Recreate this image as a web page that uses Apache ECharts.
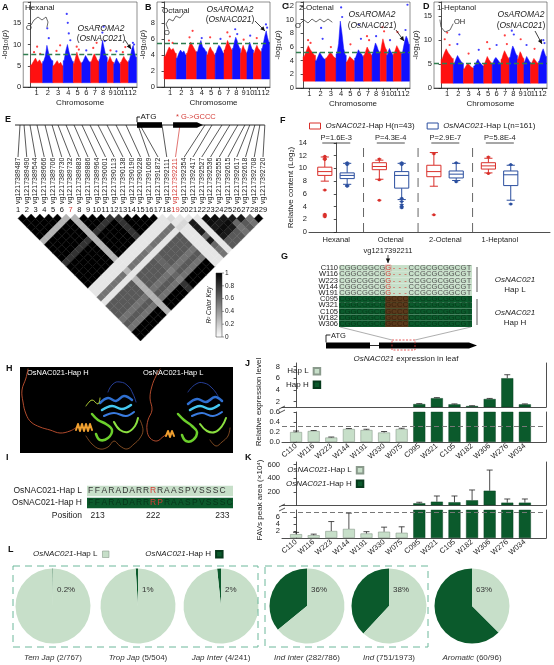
<!DOCTYPE html>
<html><head><meta charset="utf-8"><title>OsNAC021 figure</title>
<script src="https://cdn.jsdelivr.net/npm/echarts@6.0.0/dist/echarts.min.js"></script>
<style>html,body{margin:0;padding:0;background:#fff;}#chart{width:554px;height:665px;}</style>
</head><body><div id="chart"></div>
<script>
// ================= DATA =================
const chrLengths = [43.3,35.9,36.4,35.5,29.9,31.2,29.7,28.4,23.0,23.2,29.0,27.5];
const chrNames = ['1','2','3','4','5','6','7','8','9','10','11','12'];
const manhattanBase = 1;

const hexanalEnvelope = [[5.2,6.0,6.8,5.8,6.4,5.5],[6.0,7.2,9.8,8.0,6.8,6.2],[5.0,5.6,6.2,5.4,5.8,5.0],[6.2,8.5,10.0,8.2,7.0,6.0],[5.5,6.8,8.2,7.0,6.2,5.6],[5.8,6.6,7.4,6.8,6.2,5.8],[6.0,7.0,7.8,7.2,6.4,6.0],[6.5,8.8,11.0,9.5,8.0,7.0],[5.8,6.5,7.2,6.6,6.0,5.8],[5.5,6.2,6.8,6.2,5.8,5.4],[5.8,6.6,7.2,6.6,6.2,5.8],[6.2,7.5,9.0,9.8,8.2,7.0]];
const hexanalPeaks = [[1,.3,8.2],[1,.55,9.5],[1,.8,7.8],[2,.45,13.8],[2,.6,11.5],[3,.35,8.5],[3,.7,9.8],[4,.35,17.2],[4,.45,15.1],[4,.55,12.6],[4,.7,11],[5,.4,9.5],[5,.65,8.8],[6,.5,8.6],[7,.3,9.2],[7,.7,10.4],[8,.4,12.8],[8,.55,14.2],[8,.7,10.8],[9,.5,8.6],[10,.4,8.4],[11,.3,8.2],[11,.6,9.4],[12,.55,10.4],[12,.7,10.0]];
const hexanalThreshold = 7.6;

const octanalEnvelope = [[3.8,4.4,5.0,4.6,4.8,4.2],[3.6,4.2,4.6,4.3,4.5,4.0],[4.2,5.0,5.6,5.2,4.8,4.4],[4.4,5.2,5.8,5.0,4.8,4.4],[4.0,4.6,5.0,4.6,4.4,4.0],[4.2,4.8,5.2,5.0,4.6,4.2],[4.6,5.2,5.8,5.4,5.0,4.6],[4.8,5.6,6.2,5.8,5.2,4.8],[4.2,4.8,5.2,4.8,4.6,4.2],[4.4,5.0,5.6,5.2,4.8,4.6],[4.2,4.8,5.2,4.8,4.6,4.4],[4.8,5.6,6.4,7.0,6.2,5.6]];
const octanalPeaks = [[1,.4,5.8],[1,.7,5.5],[3,.3,6.2],[3,.6,7.0],[4,.5,6.1],[5,.4,6.2],[6,.6,6.0],[7,.4,6.8],[7,.7,6.3],[8,.35,7.2],[8,.6,6.6],[9,.5,5.9],[10,.5,6.4],[11,.4,6.1],[12,.55,7.8],[12,.7,7.4]];
const octanalThreshold = 5.4;

const octenalEnvelope = [[4.6,5.4,6.2,5.6,5.2,4.8],[4.0,4.6,5.2,4.8,4.4,4.2],[4.4,4.8,5.2,5.0,4.6,4.4],[5.0,6.5,9.8,8.0,5.8,4.8],[3.8,4.2,4.6,4.4,4.2,4.0],[4.4,5.0,5.6,5.2,5.0,4.6],[4.8,5.4,6.0,5.6,5.2,4.8],[5.0,5.8,6.6,6.2,5.6,5.2],[5.4,6.4,7.2,6.6,6.0,5.6],[4.8,5.4,5.8,5.4,5.2,4.8],[5.0,5.6,6.2,5.8,5.4,5.2],[5.0,6.0,7.0,7.6,7.2,6.4]];
const octenalPeaks = [[1,.4,7.0],[1,.6,6.6],[2,.55,8.8],[2,.7,7.2],[3,.5,6.0],[4,.5,11.8],[4,.6,10.4],[5,.5,6.4],[6,.45,9.3],[6,.7,7.2],[7,.4,7.6],[7,.65,7.0],[8,.5,7.6],[9,.35,8.9],[9,.6,8.3],[10,.5,7.0],[11,.5,8.2],[12,.5,8.5],[12,.75,12.2]];
const octenalThreshold = 5.2;

const heptanolEnvelope = [[6.0,7.2,8.2,7.4,6.8,6.2],[5.0,6.0,6.8,6.2,5.6,5.2],[4.0,4.6,5.2,4.8,4.4,4.2],[4.6,5.4,6.0,5.4,5.0,4.6],[5.0,5.8,6.6,6.0,5.6,5.2],[5.2,6.0,6.4,6.0,5.6,5.2],[6.0,7.0,7.8,7.2,6.6,6.2],[6.4,7.8,8.8,8.2,7.4,6.8],[6.0,6.8,7.6,7.2,6.6,6.2],[5.4,6.0,6.6,6.2,5.8,5.4],[5.0,5.6,6.2,5.8,5.4,5.2],[5.6,6.6,7.6,8.2,7.4,6.6]];
const heptanolPeaks = [[1,.3,10.2],[1,.5,11.6],[1,.7,9.0],[2,.4,9.2],[2,.6,11.2],[3,.5,7.2],[4,.5,8.0],[5,.4,9.6],[5,.7,8.2],[6,.5,9.0],[7,.45,11.0],[7,.7,9.2],[8,.3,12.0],[8,.55,11.2],[9,.5,10.2],[10,.4,9.0],[11,.5,8.2],[12,.6,10.0],[12,.75,9.4]];
const heptanolThreshold = 5.2;

// E: SNPs and LD (r2)
const snpIds = ['vg1217389487','vg1217389490','vg1217389544','vg1217389666','vg1217389706','vg1217389730','vg1217389732','vg1217389883','vg1217389886','vg1217389964','vg1217390001','vg1217390113','vg1217390138','vg1217390190','vg1217390228','vg1217391069','vg1217391872','vg1217392111','vg1217392211','vg1217392354','vg1217392417','vg1217392527','vg1217392536','vg1217392555','vg1217392615','vg1217392617','vg1217392618','vg1217392708','vg1217392720'];
const snpTrackPos = [1.23,1.69,2.37,3.17,4.09,4.89,5.57,6.49,7.40,8.31,9.23,10.14,11.17,12.20,13.34,14.71,14.94,17.46,19.51,22.37,23.17,24.31,25.21,26.13,26.93,27.49,28.07,28.64,29.21];
const highlightSnps = [7,19];
const causalSnp = 19;
const geneModel = {lineStart:0.66, lineEnd:29.2, exon1:[14.6,17.46], exon2:[18.72,21.46], tip:22.14, mutation:19.51, mutationText:'* G->GCCC'};
const ldRows = [
 [1,1,1,1,1,.3,1,1,1,1,.8,1,1,1,1,1,.1,.1,.55,.1,.65,.65,.65,.55,.65,.55,1,1],
 [1,1,1,1,.3,1,1,1,1,.8,1,1,1,1,1,.1,.1,.55,.1,.65,.65,.65,.55,.65,.55,1,1],
 [1,1,1,.3,1,1,1,1,.8,1,1,1,1,1,.1,.1,.55,.1,.65,.65,.65,.55,.65,.55,1,1],
 [1,1,.3,1,1,1,1,.8,1,1,1,1,1,.1,.1,.55,.1,.65,.65,.65,.55,.65,.55,1,1],
 [1,.3,1,1,1,1,.8,1,1,1,1,1,.1,.1,.55,.1,.65,.65,.65,.55,.65,.55,1,1],
 [.3,1,1,1,1,.8,1,1,1,1,1,.1,.1,.55,.1,.65,.65,.65,.55,.65,.55,1,1],
 [.3,.3,.3,.3,.3,.3,.3,.3,.3,.3,.1,.1,.3,.1,.3,.3,.3,.3,.3,.3,.3,.3],
 [1,1,1,.8,1,1,1,1,1,.1,.1,.55,.1,.65,.65,.65,.55,.65,.55,1,1],
 [1,1,.8,1,1,1,1,1,.1,.1,.55,.1,.65,.65,.65,.55,.65,.55,1,1],
 [1,.8,1,1,1,1,1,.1,.1,.55,.1,.65,.65,.65,.55,.65,.55,1,1],
 [.8,1,1,1,1,1,.1,.1,.55,.1,.65,.65,.65,.55,.65,.55,1,1],
 [.8,.8,.8,.8,.8,.1,.1,.5,.1,.6,.6,.6,.5,.6,.5,.8,.8],
 [1,1,1,1,.1,.1,.55,.1,.65,.65,.65,.55,.65,.55,1,1],
 [1,1,1,.1,.1,.55,.1,.65,.65,.65,.55,.65,.55,1,1],
 [1,1,.1,.1,.55,.1,.65,.65,.65,.55,.65,.55,1,1],
 [1,.1,.1,.55,.1,.65,.65,.65,.55,.65,.55,1,1],
 [.1,.1,.55,.1,.65,.65,.65,.55,.65,.55,1,1],
 [.15,.1,.15,.1,.1,.1,.1,.1,.1,.1,.1],
 [.1,.15,.1,.1,.1,.1,.1,.1,.1,.1],
 [.1,.9,.9,.9,.6,.9,.6,.55,.55],
 [.1,.1,.1,.1,.1,.1,.1,.1],
 [.95,.95,.9,.95,.9,.65,.65],
 [.95,.9,.95,.9,.65,.65],
 [.9,.95,.9,.65,.65],
 [.9,.6,.55,.55],
 [.9,.65,.65],
 [.55,.55],
 [1]
];
const ldKeyTicks = [1,0.8,0.6,0.4,0.2,0];

// F: volatile content boxplots [min, Q1, median, Q3, max]
const volatiles = ['Hexanal','Octenal','2-Octenal','1-Heptanol'];
const boxHapH = [[8.0,8.9,9.5,10.2,11.8],[8.3,9.8,10.3,10.9,11.3],[7.2,8.7,9.5,10.5,12.5],[9.3,9.9,10.4,10.9,11.6]];
const boxHapL = [[7.5,8.4,8.9,9.3,10.8],[5.1,6.9,8.9,9.5,10.8],[8.1,8.5,9.1,9.6,10.8],[5.0,7.3,9.0,9.6,10.5]];
const outliersHapH = [[0,6.6],[0,2.6],[0,2.4],[0,2.8],[0,11.9],[0,11.6],[0,11.4],[1,5.0],[1,11.5],[1,8.2],[2,2.7],[2,12.3],[3,11.8],[3,9.2]];
const outliersHapL = [[0,10.9],[0,7.3],[0,7.2],[0,10.6],[1,4.0],[1,3.8],[1,4.3],[1,4.8],[1,5.3],[1,10.9],[1,10.6],[2,7.9],[2,10.9],[3,4.4],[3,10.6]];
const pValues = ['P=1.6E-3','P=4.3E-4','P=2.9E-7','P=5.8E-4'];
const volatileSeparators = [0.5,1.5,2.5];

// G: DNA alignment
const alignSamples = ['C110','W116','W223','W144','W191','C095','W321','C105','W182','W306'];
const alignHap = ['L','L','L','L','L','H','H','H','H','H'];
const seqHapL = 'CGGCGGCGG---CCGCGCGGCGT';
const seqHapH = 'CGGCGGCGGCCCCCGCGCGGCGT';
const variantCols = [8,9,10,11];

// I: protein alignment
const proteinRows = ['OsNAC021-Hap L','OsNAC021-Hap H'];
const proteinSeqs = ['FFARADARRRRAASPVSSSC','FFARADARRRPRAASPVSSSC'];
const proteinVariantCols = [[9],[9,10]];
const proteinPositions = [213,222,233];
const proteinPositionCols = [0,9,20];

// J & K
const sampleNames = ['C110','W116','W223','W144','W191','W330','W075','C095','W321','C105','W182','W306','W276','W034'];
const sampleHap = ['L','L','L','L','L','L','L','H','H','H','H','H','H','H'];
const leafExpr = [0.20,0.22,0.09,0.26,0.24,0.19,0.26,1.6,2.6,1.55,1.26,2.46,6.0,1.55];
const leafExprErr = [0.02,0.01,0.01,0.01,0.015,0.02,0.015,0.08,0.1,0.08,0.06,0.1,0.6,0.08];
const leafExprCutoff = 0.31;
const favArea = [1.1,0.8,2.0,2.6,1.3,1.8,1.5,35,58,50,79,219,44,44];
const favAreaErr = [0.5,0.3,2.7,4.5,0.5,1.3,1.7,15,84,92,151,303,54,54];
const favCutoff = 7.5;

// L: haplotype frequency
const popNames = ['Tem Jap','Trop Jap','Jap Inter','Ind Inter','Ind','Aromatic'];
const popHapH = [2,5,4,282,751,60];
const popTotal = [767,504,241,786,1973,96];
const popPctLabels = ['0.2%','1%','2%','36%','38%','63%'];

// ================= STYLE / LAYOUT =================
const FONT = '"Liberation Sans", Arial, Helvetica, sans-serif';
const RED_M = '#ff1010', BLUE_M = '#1010ff';
const DARK = '#0b5a2c', LIGHT = '#c7dfc9', LIGHT_BORDER = '#8a9a8c';
const BOX_RED = '#d9302b', BOX_BLUE = '#2b4f9f';
const MUT_RED = '#d43a35';
const AX = '#222';
function fnt(size, o){ o=o||{}; return (o.italic?'italic ':'')+(o.bold?'bold ':'')+size+'px '+FONT; }
function merge(a,b){ const o=Object.assign({},a); for(const k in b){ const v=b[k]; if(v&&typeof v==='object'&&!Array.isArray(v)&&o[k]&&typeof o[k]==='object'&&!Array.isArray(o[k])) o[k]=merge(o[k],v); else o[k]=v; } return o; }
const baseAxis = {type:'value', axisLine:{show:true,lineStyle:{color:AX,width:0.8}}, axisTick:{show:true,length:2.5,lineStyle:{color:AX,width:0.8}}, axisLabel:{color:'#222',fontSize:7.5,margin:2,fontFamily:FONT}, splitLine:{show:false}, nameTextStyle:{color:'#222',fontSize:8,fontFamily:FONT}};
const hiddenAxis = (g,min,max,inv)=>({type:'value', gridIndex:g, min, max, show:false, inverse:!!inv});

const starts=[]; {let acc=0; chrLengths.forEach(l=>{starts.push(acc); acc+=l;});}
const mids = starts.map((s,i)=>s+chrLengths[i]/2);

const manhattanPanels = [
 {trait:'Hexanal', env:hexanalEnvelope, peaks:hexanalPeaks, thr:hexanalThreshold, yMax:20, yInt:5, showMax:15, grid:{left:20,top:2,width:117,height:85}},
 {trait:'Octanal', env:octanalEnvelope, peaks:octanalPeaks, thr:octanalThreshold, yMax:10.6, yInt:2, showMax:8, grid:{left:157,top:2,width:113,height:85}},
 {trait:'2-Octenal', env:octenalEnvelope, peaks:octenalPeaks, thr:octenalThreshold, yMax:12.6, yInt:2, showMax:12, grid:{left:296,top:2,width:114,height:86}},
 {trait:'1-Heptanol', env:heptanolEnvelope, peaks:heptanolPeaks, thr:heptanolThreshold, yMax:18, yInt:5, showMax:15, grid:{left:434,top:2,width:113,height:86}}
];

const grids=[], xAxes=[], yAxes=[], series=[];
// ---- A-D ----
manhattanPanels.forEach((p,pi)=>{
  grids.push(Object.assign({show:true,borderColor:'#444',borderWidth:0.6}, p.grid));
  xAxes.push(merge(baseAxis,{gridIndex:pi,min:-25,max:375,name:'Chromosome',nameLocation:'middle',nameGap:12,
    axisLabel:{customValues:mids, formatter:v=>chrNames[mids.findIndex(m=>Math.abs(m-v)<1e-6)]||''},
    axisTick:{customValues:mids}}));
  yAxes.push(merge(baseAxis,{gridIndex:pi,min:0,max:p.yMax,interval:p.yInt,
    name:'-log\u2081\u2080({i|p})',nameLocation:'middle',nameGap:(p.showMax>=10?10:7),
    nameTextStyle:{rich:{i:{fontStyle:'italic',fontSize:8,fontFamily:FONT,color:'#222'}}},
    axisLabel:{formatter:v=>v>p.showMax?'':String(v)}}));
  const env=p.env;
  series.push({type:'custom', xAxisIndex:pi, yAxisIndex:pi, silent:true, data:env.map((e,i)=>[i]),
    renderItem:(params,api)=>{
      const c=api.value(0), s=starts[c], L=chrLengths[c], e=env[c];
      const pts=[api.coord([s,manhattanBase]), api.coord([s,e[0]])];
      e.forEach((v,k)=>pts.push(api.coord([s+L*(k+0.5)/e.length, v])));
      pts.push(api.coord([s+L,e[e.length-1]])); pts.push(api.coord([s+L,manhattanBase]));
      const col=c%2?BLUE_M:RED_M;
      return {type:'polygon', shape:{points:pts}, style:{fill:col, stroke:col, lineWidth:0.5}};
    }});
  series.push({type:'scatter', xAxisIndex:pi, yAxisIndex:pi, silent:true, symbolSize:2.2,
    data:p.peaks.map(([c,f,v])=>[starts[c-1]+chrLengths[c-1]*f, v, c]),
    itemStyle:{color:params=>params.data[2]%2?RED_M:BLUE_M},
    markLine:{silent:true, symbol:'none', label:{show:false}, lineStyle:{color:'#2f7d4f',type:[5,3],width:1.4}, data:[{yAxis:p.thr}]}});
});
// ---- E ----
grids.push({left:13.625,top:125,width:253.75,height:32}); // 4
xAxes.push(hiddenAxis(4,0.5,29.5)); yAxes.push(hiddenAxis(4,0,1));
grids.push({left:13.625,top:214,width:253.75,height:127}); // 5
xAxes.push(hiddenAxis(5,0.5,29.5)); yAxes.push(hiddenAxis(5,0,29,true));
series.push({type:'custom', xAxisIndex:4, yAxisIndex:4, silent:true, data:snpTrackPos.map((t,k)=>[k+1,t]),
  renderItem:(params,api)=>{ const k=api.value(0), t=api.value(1); const a=api.coord([t,1]), b=api.coord([k,0]);
    return {type:'line', shape:{x1:a[0],y1:a[1],x2:b[0],y2:b[1]}, style:{stroke:k===causalSnp?MUT_RED:'#111', lineWidth:0.7}}; }});
series.push({type:'custom', xAxisIndex:4, yAxisIndex:4, silent:true, data:[[0]], z:5,
  renderItem:(params,api)=>{
    const y=1, a=api.coord([geneModel.lineStart,y]), b=api.coord([geneModel.lineEnd,y]);
    const ch=[{type:'line',shape:{x1:a[0],y1:a[1],x2:b[0],y2:b[1]},style:{stroke:'#111',lineWidth:0.9}}];
    const e1s=api.coord([geneModel.exon1[0],y]), e1e=api.coord([geneModel.exon1[1],y]);
    ch.push({type:'rect',shape:{x:e1s[0],y:e1s[1]-2.8,width:e1e[0]-e1s[0],height:5.6},style:{fill:'#000'}});
    const e2s=api.coord([geneModel.exon2[0],y]), e2e=api.coord([geneModel.exon2[1],y]), tp=api.coord([geneModel.tip,y]);
    ch.push({type:'polygon',shape:{points:[[e2s[0],e2s[1]-2.8],[e2e[0],e2s[1]-2.8],[tp[0],e2s[1]],[e2e[0],e2s[1]+2.8],[e2s[0],e2s[1]+2.8]]},style:{fill:'#000'}});
    ch.push({type:'polyline',shape:{points:[[e1s[0],e1s[1]-2.8],[e1s[0],e1s[1]-8],[e1s[0]+3,e1s[1]-8]]},style:{stroke:'#000',lineWidth:0.9,fill:null}});
    ch.push({type:'text',x:e1s[0]+3.5,y:e1s[1]-8,style:{text:'ATG',fill:'#111',font:fnt(8),align:'left',verticalAlign:'middle'}});
    const m=api.coord([geneModel.mutation,y]);
    ch.push({type:'text',x:m[0]-4,y:m[1]-8,style:{text:geneModel.mutationText,fill:MUT_RED,font:fnt(7.5),align:'left',verticalAlign:'middle'}});
    return {type:'group',children:ch};
  }});
const ldData=[]; ldRows.forEach((row,i)=>row.forEach((r,m)=>ldData.push([i+1,i+2+m,r])));
series.push({type:'custom', xAxisIndex:5, yAxisIndex:5, silent:true, data:ldData,
  renderItem:(params,api)=>{ const i=api.value(0), j=api.value(1), r=api.value(2); const x=(i+j)/2, k=j-i;
    const pts=[api.coord([x,k-1]),api.coord([x+0.5,k]),api.coord([x,k+1]),api.coord([x-0.5,k])];
    const g=Math.round(255*(1-r)); const c='rgb('+g+','+g+','+g+')';
    return {type:'polygon',shape:{points:pts},style:{fill:c,stroke:c,lineWidth:0.4}}; }});
series.push({type:'custom', xAxisIndex:5, yAxisIndex:5, silent:true, data:snpIds.map((s,k)=>[k+1]),
  renderItem:(params,api)=>{ const k=api.value(0); const p=api.coord([k,-2.3]), n=api.coord([k,-1.0]);
    const hl=highlightSnps.indexOf(k)>=0;
    return {type:'group',children:[
      {type:'text',x:p[0],y:p[1],rotation:Math.PI/2,style:{text:snpIds[k-1],font:fnt(7),fill:k===causalSnp?MUT_RED:'#222',align:'left',verticalAlign:'middle'}},
      {type:'text',x:n[0],y:n[1],style:{text:String(k),font:fnt(7.5),fill:hl?MUT_RED:'#111',align:'center',verticalAlign:'middle'}}]}; }});
// ---- F ----
grids.push({left:309,top:143,width:241,height:89}); // 6
xAxes.push(merge(baseAxis,{gridIndex:6,min:-0.5,max:3.92,axisTick:{show:false},axisLabel:{customValues:[0,1,2,3],formatter:v=>volatiles[Math.round(v)],margin:4}}));
yAxes.push(merge(baseAxis,{gridIndex:6,min:0,max:14,interval:2,name:'Relative content (Log\u2082)',nameLocation:'middle',nameGap:12}));
function boxRender(color,off){ return function(params,api){
  const i=api.value(0), x=i+off, hw=0.13, cw=0.075;
  const v=[1,2,3,4,5].map(d=>api.coord([x,api.value(d)]));
  const xl=api.coord([x-hw,0])[0], xr=api.coord([x+hw,0])[0], cl=api.coord([x-cw,0])[0], cr=api.coord([x+cw,0])[0];
  const st={stroke:color,lineWidth:1,fill:null};
  return {type:'group',children:[
    {type:'line',shape:{x1:v[0][0],y1:v[0][1],x2:v[1][0],y2:v[1][1]},style:st},
    {type:'line',shape:{x1:v[3][0],y1:v[3][1],x2:v[4][0],y2:v[4][1]},style:st},
    {type:'line',shape:{x1:cl,y1:v[0][1],x2:cr,y2:v[0][1]},style:st},
    {type:'line',shape:{x1:cl,y1:v[4][1],x2:cr,y2:v[4][1]},style:st},
    {type:'rect',shape:{x:xl,y:v[3][1],width:xr-xl,height:v[1][1]-v[3][1]},style:{stroke:color,lineWidth:1,fill:'#fff'}},
    {type:'line',shape:{x1:xl,y1:v[2][1],x2:xr,y2:v[2][1]},style:st}]};
};}
function outlierRender(color,off){ return function(params,api){ const p=api.coord([api.value(0)+off, api.value(1)]);
  return {type:'group',children:[{type:'circle',shape:{cx:p[0],cy:p[1],r:1.5},style:{fill:color}},{type:'line',shape:{x1:p[0]-2.2,y1:p[1],x2:p[0]+2.2,y2:p[1]},style:{stroke:color,lineWidth:0.8}}]}; };}
const fNameH='OsNAC021-Hap H(n=43)', fNameL='OsNAC021-Hap L(n=161)';
series.push({type:'custom',name:fNameH,xAxisIndex:6,yAxisIndex:6,silent:true,data:boxHapH.map((b,i)=>[i].concat(b)),renderItem:boxRender(BOX_RED,-0.21),itemStyle:{color:BOX_RED}});
series.push({type:'custom',name:fNameL,xAxisIndex:6,yAxisIndex:6,silent:true,data:boxHapL.map((b,i)=>[i].concat(b)),renderItem:boxRender(BOX_BLUE,0.2),itemStyle:{color:BOX_BLUE}});
series.push({type:'custom',xAxisIndex:6,yAxisIndex:6,silent:true,data:outliersHapH,renderItem:outlierRender(BOX_RED,-0.21)});
series.push({type:'custom',xAxisIndex:6,yAxisIndex:6,silent:true,data:outliersHapL,renderItem:outlierRender(BOX_BLUE,0.2)});
series.push({type:'custom',xAxisIndex:6,yAxisIndex:6,silent:true,data:volatileSeparators.map(v=>[v]),
  renderItem:(params,api)=>{ const a=api.coord([api.value(0),0]), b=api.coord([api.value(0),14]);
    return {type:'line',shape:{x1:a[0],y1:a[1],x2:b[0],y2:b[1]},style:{stroke:'#555',lineWidth:0.9,lineDash:[9,6]}}; }});
series.push({type:'custom',xAxisIndex:6,yAxisIndex:6,silent:true,data:pValues.map((p,i)=>[i]),
  renderItem:(params,api)=>{ const i=api.value(0); const c=api.coord([i,14]);
    return {type:'group',children:[
      {type:'text',x:c[0],y:c[1]-1,style:{text:pValues[i],font:fnt(7.5),fill:'#222',align:'center',verticalAlign:'bottom'}},
      {type:'line',shape:{x1:c[0]-14,y1:c[1],x2:c[0]+14,y2:c[1]},style:{stroke:'#222',lineWidth:0.8}}]}; }});
// ---- G ----
grids.push({left:339,top:265,width:133,height:62}); // 7
xAxes.push(hiddenAxis(7,0,23)); yAxes.push(hiddenAxis(7,0,10,true));
series.push({type:'custom',xAxisIndex:7,yAxisIndex:7,silent:true,data:alignSamples.map((s,r)=>[r]),
  renderItem:(params,api)=>{ const r=api.value(0), hapH=alignHap[r]==='H'; const seq=hapH?seqHapH:seqHapL;
    const p0=api.coord([0,r]), p1=api.coord([23,r+1]);
    const ch=[{type:'rect',shape:{x:p0[0],y:p0[1],width:p1[0]-p0[0],height:p1[1]-p0[1]},style:{fill:hapH?DARK:LIGHT}}];
    if(hapH){ const v0=api.coord([variantCols[0],r]), v1=api.coord([variantCols[variantCols.length-1]+1,r+1]);
      ch.push({type:'rect',shape:{x:v0[0],y:v0[1],width:v1[0]-v0[0],height:v1[1]-v0[1]},style:{fill:'#5a3a1c'}}); }
    ch.push({type:'text',x:p0[0]-1,y:(p0[1]+p1[1])/2,style:{text:alignSamples[r],font:fnt(7.5),fill:'#222',align:'right',verticalAlign:'middle'}});
    for(let c=0;c<seq.length;c++){ const q=api.coord([c+0.5,r+0.5]); const isV=variantCols.indexOf(c)>=0;
      let col = hapH ? (isV?'#3b200c':'#073a1a') : (isV?MUT_RED:'#555');
      ch.push({type:'text',x:q[0],y:q[1],style:{text:seq[c],font:fnt(7.5),fill:col,align:'center',verticalAlign:'middle'}}); }
    if(r===0){ const v0=api.coord([variantCols[0],0]), v1=api.coord([variantCols[0]+1,5]);
      ch.push({type:'rect',shape:{x:v0[0],y:v0[1],width:v1[0]-v0[0],height:v1[1]-v0[1]},style:{fill:null,stroke:'#e08080',lineWidth:0.6}}); }
    return {type:'group',children:ch}; }});
// ---- I ----
grids.push({left:87,top:485,width:146,height:24}); // 8
xAxes.push(hiddenAxis(8,0,21)); yAxes.push(hiddenAxis(8,0,2,true));
series.push({type:'custom',xAxisIndex:8,yAxisIndex:8,silent:true,data:proteinRows.map((s,r)=>[r]),
  renderItem:(params,api)=>{ const r=api.value(0), seq=proteinSeqs[r], dark=r===1;
    const p0=api.coord([0,r]), p1=api.coord([21,r+1]);
    const ch=[{type:'rect',shape:{x:p0[0],y:p0[1]+0.8,width:p1[0]-p0[0],height:p1[1]-p0[1]-1.6},style:{fill:dark?DARK:LIGHT}}];
    ch.push({type:'text',x:p0[0]-5,y:(p0[1]+p1[1])/2,style:{text:proteinRows[r],font:fnt(8.5),fill:'#222',align:'right',verticalAlign:'middle'}});
    for(let c=0;c<seq.length;c++){ const q=api.coord([c+0.5,r+0.5]); const isV=proteinVariantCols[r].indexOf(c)>=0;
      ch.push({type:'text',x:q[0],y:q[1],style:{text:seq[c],font:fnt(8.5),fill:isV?MUT_RED:(dark?'#06361a':'#333'),align:'center',verticalAlign:'middle'}}); }
    if(r===1){ const py=api.coord([0,2.55])[1];
      ch.push({type:'text',x:p0[0]-5,y:py,style:{text:'Position',font:fnt(8.5),fill:'#222',align:'right',verticalAlign:'middle'}});
      proteinPositions.forEach((pos,k)=>{ const cc=proteinPositionCols[k]; const q=api.coord([cc+0.5,2.55]);
        ch.push({type:'text',x:q[0],y:py,style:{text:String(pos),font:fnt(8.5),fill:'#222',align:k===0?'left':(k===2?'right':'center'),verticalAlign:'middle'}}); }); }
    return {type:'group',children:ch}; }});
// ---- J & K ----
const idxL=[], idxH=[]; sampleHap.forEach((h,i)=>(h==='L'?idxL:idxH).push(i));
const barX = {min:-0.8,max:14.2};
function frameX(g,pos){ return merge(baseAxis,{gridIndex:g,min:barX.min,max:barX.max,position:pos,axisTick:{show:false},axisLabel:{show:false}}); }
function labelX(g){ return merge(baseAxis,{gridIndex:g,min:barX.min,max:barX.max,axisTick:{show:false},axisLabel:{customValues:sampleNames.map((s,i)=>i),formatter:v=>sampleNames[Math.round(v)],rotate:40,fontSize:7.5,margin:3}}); }
grids.push({left:282,top:363,width:264,height:44}); //9
grids.push({left:282,top:412,width:264,height:30}); //10
grids.push({left:282,top:462,width:264,height:43}); //11
grids.push({left:282,top:510,width:264,height:28}); //12
xAxes.push(frameX(9,'top')); xAxes.push(labelX(10)); xAxes.push(frameX(11,'top')); xAxes.push(labelX(12));
yAxes.push(merge(baseAxis,{gridIndex:9,min:1.1,max:8.6,axisLabel:{customValues:[2,4,6,8]},axisTick:{customValues:[2,4,6,8]}}));
yAxes.push(merge(baseAxis,{gridIndex:10,min:0,max:0.6,interval:0.2,axisLabel:{formatter:v=>v.toFixed(1)}}));
yAxes.push(merge(baseAxis,{gridIndex:11,min:10,max:640,axisLabel:{customValues:[200,400,600]},axisTick:{customValues:[200,400,600]}}));
yAxes.push(merge(baseAxis,{gridIndex:12,min:0,max:8,interval:2}));
[9,10,11,12].forEach(g=>yAxes.push(merge(baseAxis,{gridIndex:g,min:0,max:1,position:'right',axisTick:{show:false},axisLabel:{show:false}})));
const lightBar={color:LIGHT,borderColor:LIGHT_BORDER,borderWidth:0.6}, darkBar={color:DARK,borderColor:'#063a1c',borderWidth:0.4};
function errRender(params,api){ const x=api.value(0), v=api.value(1), e=api.value(2); const a=api.coord([x,v]), b=api.coord([x,v+e]);
  return {type:'group',children:[{type:'line',shape:{x1:a[0],y1:a[1],x2:b[0],y2:b[1]},style:{stroke:'#222',lineWidth:0.8}},{type:'line',shape:{x1:b[0]-3,y1:b[1],x2:b[0]+3,y2:b[1]},style:{stroke:'#222',lineWidth:0.8}}]}; }
const dashML=(v)=>({silent:true,symbol:'none',label:{show:false},lineStyle:{color:'#777',type:[5,3],width:1},data:[{yAxis:v}]});
function addBars(vals,errs,upG,lowG,nameL,nameH,cut){
  series.push({type:'bar',name:nameL,xAxisIndex:lowG,yAxisIndex:lowG,barWidth:12,barGap:'-100%',silent:true,data:idxL.map(i=>[i,vals[i]]),itemStyle:lightBar,markLine:dashML(cut)});
  series.push({type:'bar',name:nameH,xAxisIndex:lowG,yAxisIndex:lowG,barWidth:12,barGap:'-100%',silent:true,data:idxH.map(i=>[i,vals[i]]),itemStyle:darkBar});
  series.push({type:'bar',name:nameH,xAxisIndex:upG,yAxisIndex:upG,barWidth:12,barGap:'-100%',silent:true,data:idxH.map(i=>[i,vals[i]]),itemStyle:darkBar});
  series.push({type:'custom',xAxisIndex:lowG,yAxisIndex:lowG,silent:true,clip:true,z:3,data:idxL.map(i=>[i,vals[i],errs[i]]),renderItem:errRender});
  series.push({type:'custom',xAxisIndex:upG,yAxisIndex:upG,silent:true,clip:true,z:3,data:idxH.map(i=>[i,vals[i],errs[i]]),renderItem:errRender});
}
addBars(leafExpr,leafExprErr,9,10,'Hap L','Hap H',leafExprCutoff);
addBars(favArea,favAreaErr,11,12,'OsNAC021-Hap L','OsNAC021-Hap H',favCutoff);
// ---- L pies ----
const pieCenters=[53,138,221,307,389,472], pieY=606, pieR=37.5;
popNames.forEach((n,i)=>{
  series.push({type:'pie',silent:true,center:[pieCenters[i],pieY],radius:pieR,startAngle:90,clockwise:false,label:{show:false},labelLine:{show:false},
    data:[{name:'OsNAC021-Hap H',value:popHapH[i],itemStyle:{color:DARK}},{name:'OsNAC021-Hap L',value:popTotal[i]-popHapH[i],itemStyle:{color:LIGHT}}]});
});

// ================= GRAPHICS (annotations) =================
const G=[];
function T(x,y,text,o){ o=o||{}; G.push({type:'text',x,y,rotation:o.rot||0,z:100,silent:true,style:{text,font:fnt(o.size||8,o),fill:o.color||'#222',align:o.align||'left',verticalAlign:o.va||'middle',rich:o.rich}}); }
function Ln(x1,y1,x2,y2,c,w,dash){ G.push({type:'line',z:100,silent:true,shape:{x1,y1,x2,y2},style:{stroke:c||'#222',lineWidth:w||0.8,lineDash:dash||null}}); }
function Pl(pts,c,w,smooth){ G.push({type:'polyline',z:100,silent:true,shape:{points:pts,smooth:smooth||0},style:{stroke:c,lineWidth:w,fill:null,lineCap:'round',lineJoin:'round'}}); }
function Arrow(x1,y1,x2,y2){ Ln(x1,y1,x2,y2,'#111',0.8); const a=Math.atan2(y2-y1,x2-x1), L=4.5, W=2.2;
  const bx=x2-L*Math.cos(a), by=y2-L*Math.sin(a);
  G.push({type:'polygon',z:100,silent:true,shape:{points:[[x2,y2],[bx-W*Math.sin(a),by+W*Math.cos(a)],[bx+W*Math.sin(a),by-W*Math.cos(a)]]},style:{fill:'#111'}}); }
const richI={i:{fontStyle:'italic',fontSize:8,fontFamily:FONT,color:'#222'}};
// panel letters
[['A',2,8],['B',145,8],['C',282,7],['D',423,7],['E',5,120],['F',280,121],['G',281,257],['H',6,369],['I',6,458],['J',245,364],['K',245,458],['L',8,550]].forEach(l=>T(l[1],l[2],l[0],{size:9,bold:true,color:'#111'}));
// A-D annotations
T(25,8,'Hexanal'); T(162,11,'Octanal'); T(299,8,'2-Octenal'); T(437,8,'1-Heptanol');
[[101,29,39,[125,40,131,49]],[230,10,20,[255,21,265,31]],[372,15,26,[396,30,404,41]],[521,15,26,[535,31,542,44]]].forEach(a=>{
  T(a[0],a[1],'OsAROMA2',{italic:true,size:8.5,align:'center'});
  T(a[0],a[2],'({i|OsNAC021})',{size:8.5,align:'center',rich:{i:{fontStyle:'italic',fontSize:8.5,fontFamily:FONT,color:'#222'}}});
  Arrow(a[3][0],a[3][1],a[3][2],a[3][3]); });
// chemical sketches
Pl([[31,25],[34,20],[38,17],[42,20],[46,17],[48,22],[47,27]],'#444',0.8); T(26,28,'O',{size:7.5});
Pl([[168,29],[166,24],[169,19],[173,21],[176,16],[180,18],[184,13]],'#444',0.8); T(164,33,'O',{size:7.5});
Pl([[300,24],[304,20],[308,23],[312,19],[316,22],[320,19],[324,22],[328,19],[332,22]],'#444',0.8); T(295,26,'O',{size:7.5});
Pl([[440,20],[441,27],[445,32],[450,30],[453,24]],'#444',0.8); T(454,22,'OH',{size:7.5});
// E color key
G.push({type:'rect',z:100,silent:true,shape:{x:216,y:273,width:6,height:64},style:{fill:{type:'linear',x:0,y:0,x2:0,y2:1,colorStops:[{offset:0,color:'#000'},{offset:1,color:'#fff'}]},stroke:'#333',lineWidth:0.5}});
ldKeyTicks.forEach(v=>{ const y=273+64*(1-v); Ln(222,y,224,y,'#333',0.5); T(225,y,String(v),{size:6.5}); });
T(209,305,'R\u00b2 Color Key',{size:6.5,italic:true,rot:Math.PI/2,align:'center'});
// G annotations
T(388,251,'vg1217392211',{size:7.5,align:'center'}); Arrow(388,255,388,263);
Ln(477,267,477,292,'#444',0.9); Ln(477,299,477,325,'#444',0.9);
T(515,280,'OsNAC021',{italic:true,size:8,align:'center'}); T(515,290,'Hap L',{size:8,align:'center'});
T(515,313,'OsNAC021',{italic:true,size:8,align:'center'}); T(515,323,'Hap H',{size:8,align:'center'});
Ln(340,327,392,340,'#777',0.6); Ln(471,327,415,340,'#777',0.6);
Pl([[326,342],[326,335],[330,335]],'#111',0.9); T(331,336,'ATG',{size:7.5});
G.push({type:'rect',z:100,silent:true,shape:{x:326,y:342.5,width:44,height:6},style:{fill:'#000'}});
Ln(370,345.5,379,345.5,'#111',0.9);
G.push({type:'polygon',z:100,silent:true,shape:{points:[[379,342.5],[469,342.5],[477,345.5],[469,348.5],[379,348.5]]},style:{fill:'#000'}});
G.push({type:'rect',z:101,silent:true,shape:{x:392,y:340,width:23,height:10},style:{fill:null,stroke:'#e03030',lineWidth:0.8,lineDash:[2,1.5]}});
T(406,359,'{i|OsNAC021} expression in leaf',{size:8,align:'center',rich:richI});
// H protein structures
G.push({type:'rect',z:99,silent:true,shape:{x:20,y:367,width:213,height:86},style:{fill:'#000'}});
T(27,373,'OsNAC021-Hap H',{size:7.5,color:'#fff'}); T(143,373,'OsNAC021-Hap L',{size:7.5,color:'#fff'});
const protArt=[
 [[[28,369],[26,378],[22,390],[23,402],[26,414],[31,422],[40,427],[50,430],[60,433],[70,431],[77,427]],'#b04a2c',1,0.4],
 [[[86,436],[92,444],[100,449],[108,447],[114,441],[120,446],[127,449],[134,444],[140,438],[143,430],[140,420]],'#9c5a2a',0.8,0.4],
 [[[76,430],[78,424],[80,431],[82,424],[84,431],[86,424],[88,431],[90,424],[92,430]],'#f0a030',2,0],
 [[[108,392],[113,384],[120,382],[128,386],[133,394],[136,402]],'#2a45a8',0.9,0.5],
 [[[100,403],[108,398],[116,401],[124,396],[132,400]],'#2f6fd0',2.5,0.4],
 [[[102,410],[112,406],[122,409],[131,405]],'#45c8f0',2.5,0.4],
 [[[104,416],[114,413],[126,416],[134,412]],'#3a7be0',2,0.4],
 [[[92,414],[98,420],[106,424],[112,430],[108,438],[100,440],[96,434]],'#6ccf2c',2.5,0.4],
 [[[114,422],[120,430],[128,432],[135,426],[138,418]],'#8be040',2,0.4],
 [[[86,406],[92,400],[98,404],[100,398]],'#b8d838',1,0.4],
 [[[160,369],[156,376],[152,386],[150,398],[152,410],[148,420],[147,430],[150,438],[157,441],[164,436],[170,433]],'#b04a2c',1,0.4],
 [[[166,436],[168,431],[170,437],[172,431],[174,436]],'#f0a030',2,0],
 [[[188,392],[196,384],[204,383],[212,388],[218,396]],'#2a45a8',0.9,0.5],
 [[[188,404],[197,399],[206,402],[215,397],[222,401]],'#2f6fd0',2.5,0.4],
 [[[190,410],[200,406],[210,409],[219,405]],'#45c8f0',2.5,0.4],
 [[[192,416],[202,413],[213,416],[222,412]],'#3a7be0',2,0.4],
 [[[178,414],[184,420],[192,426],[197,432],[193,440],[186,441],[182,435]],'#6ccf2c',2.5,0.4],
 [[[200,424],[207,431],[215,432],[222,426],[226,418]],'#8be040',2,0.4],
 [[[210,440],[216,446],[222,442],[228,436],[230,428]],'#9c5a2a',0.8,0.4]
];
protArt.forEach(a=>Pl(a[0],a[1],a[2],a[3]));
// J / K axis names and breaks
T(259,402,'Relative expression level',{size:8,rot:Math.PI/2,align:'center'});
T(260,500,'FAVs peak area (\u00d710\u2074)',{size:8,rot:Math.PI/2,align:'center'});
[[407,412],[505,510]].forEach(b=>{ Ln(279,b[0]+2,285,b[0]-1,'#222',0.8); Ln(279,b[1]+1,285,b[1]-2,'#222',0.8); });
// L annotations
G.push({type:'rect',z:100,silent:true,shape:{x:13,y:566,width:245,height:81},style:{fill:null,stroke:'#6cb89b',lineWidth:1,lineDash:[7,5]}});
G.push({type:'rect',z:100,silent:true,shape:{x:265,y:566,width:163,height:81},style:{fill:null,stroke:'#6cb89b',lineWidth:1,lineDash:[7,5]}});
popNames.forEach((n,i)=>{
  T(pieCenters[i]+4,590,popPctLabels[i],{size:8,color:'#333'});
  T(pieCenters[i],658,'{n|'+n+'} ({g|'+popHapH[i]+'}/'+popTotal[i]+')',{size:8,align:'center',color:'#333',
    rich:{n:{fontStyle:'italic',fontSize:8,fontFamily:FONT,color:'#333'},g:{fontSize:8,fontFamily:FONT,color:'#3a9a5a'}}});
});

// ================= LEGENDS =================
const italicFmt = n=>n.replace('OsNAC021','{i|OsNAC021}');
const legTS = {fontSize:8,fontFamily:FONT,color:'#222',rich:richI};
const legends=[
 {selectedMode:false,left:309,top:122,itemWidth:11,itemHeight:6,itemGap:12,padding:0,textStyle:legTS,formatter:italicFmt,
  data:[{name:fNameH,icon:'rect',itemStyle:{color:'#fff',borderColor:BOX_RED,borderWidth:1}},{name:fNameL,icon:'rect',itemStyle:{color:'#fff',borderColor:BOX_BLUE,borderWidth:1}}]},
 {selectedMode:false,left:286,top:367,orient:'vertical',align:'right',itemWidth:6.5,itemHeight:6.5,itemGap:5,padding:0,textStyle:legTS,
  data:[{name:'Hap L',icon:'rect'},{name:'Hap H',icon:'rect'}]},
 {selectedMode:false,left:286,top:466,orient:'vertical',align:'right',itemWidth:6.5,itemHeight:6.5,itemGap:5,padding:0,textStyle:legTS,formatter:italicFmt,
  data:[{name:'OsNAC021-Hap L',icon:'rect'},{name:'OsNAC021-Hap H',icon:'rect'}]},
 {selectedMode:false,left:33,top:550,orient:'horizontal',align:'right',itemWidth:6.5,itemHeight:6.5,itemGap:36,padding:0,textStyle:legTS,formatter:italicFmt,
  data:[{name:'OsNAC021-Hap L',icon:'rect',itemStyle:{color:LIGHT,borderColor:LIGHT_BORDER,borderWidth:0.6}},{name:'OsNAC021-Hap H',icon:'rect',itemStyle:{color:DARK}}]}
];

const chart = echarts.init(document.getElementById('chart'), null, {width:554,height:665});
chart.setOption({
  animation:false, backgroundColor:'#fff', textStyle:{fontFamily:FONT},
  grid:grids, xAxis:xAxes, yAxis:yAxes, series:series, legend:legends, graphic:{elements:G}
});
</script></body></html>
